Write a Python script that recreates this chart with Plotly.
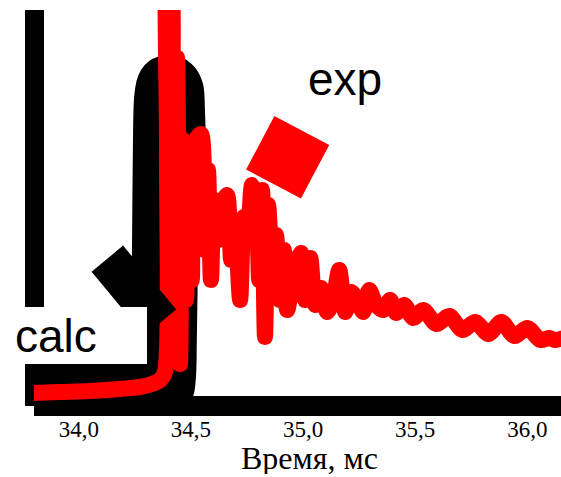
import plotly.graph_objects as go

# --- data (time in ms, intensity in arbitrary units) ---
calc_t = [33.799, 34.094, 34.317, 34.353, 34.371, 34.379, 34.384, 34.388, 34.393,
          34.402, 34.411, 34.415, 34.420, 34.429, 34.446, 34.473, 34.495, 34.518]
calc_v = [11, 11, 12, 14, 21, 66, 156, 256, 306,
          318, 314, 296, 266, 241, 221, 201, 181, 156]

exp_t = [33.795, 33.915, 34.049, 34.183, 34.272, 34.326, 34.362, 34.384, 34.393, 34.397,
         34.406, 34.415, 34.424, 34.438, 34.451, 34.464, 34.478, 34.491, 34.504, 34.522,
         34.545, 34.562, 34.576, 34.589, 34.603, 34.621, 34.638, 34.661, 34.679, 34.696,
         34.719, 34.737, 34.754, 34.772, 34.790, 34.804, 34.817, 34.830, 34.844, 34.862,
         34.879, 34.897, 34.915, 34.929, 34.955, 34.991, 35.009, 35.032, 35.054, 35.081,
         35.107, 35.134, 35.161, 35.188, 35.214, 35.241, 35.268, 35.295, 35.326, 35.357,
         35.388, 35.415, 35.451, 35.491, 35.536, 35.594, 35.652, 35.710, 35.768, 35.826,
         35.884, 35.942, 36.000, 36.058, 36.098, 36.121, 36.161]
exp_v = [13, 14, 15, 17, 19, 22, 26, 34, 256, 446,
         446, 206, 76, 348, 42, 266, 106, 254, 126, 266,
         272, 156, 236, 126, 206, 166, 201, 211, 146, 186,
         106, 189, 176, 221, 206, 126, 216, 69, 201, 146,
         171, 106, 156, 96, 126, 153, 106, 148, 101, 118,
         94, 106, 136, 94, 114, 106, 94, 116, 101, 96,
         106, 93, 101, 88, 96, 82, 90, 76, 84, 72,
         84, 70, 78, 66, 68, 66, 68]

tick_vals = [34.0, 34.5, 35.0, 35.5, 36.0]
tick_text = ["34,0", "34,5", "35,0", "35,5", "36,0"]
x_title = "Время, мс"

fig = go.Figure()
fig.add_trace(go.Scatter(x=calc_t, y=calc_v, mode="lines", name="calc",
                         line=dict(color="black", width=66, shape="spline", smoothing=0.8)))
fig.add_trace(go.Scatter(x=exp_t, y=exp_v, mode="lines", name="exp",
                         line=dict(color="red", width=16, shape="spline", smoothing=0.8)))

# arrows (drawn first so the label boxes sit on top)
fig.add_annotation(x=34.3156, y=128.5, ax=-33, ay=27.5, text="", showarrow=True,
                   arrowhead=0, arrowwidth=83, arrowcolor="black")
fig.add_annotation(x=34.8683, y=222, ax=29, ay=-55, text="", showarrow=True,
                   arrowhead=0, arrowwidth=62, arrowcolor="red")
# labels
fig.add_annotation(x=34.009, y=71, text="calc", showarrow=False,
                   font=dict(family="Liberation Sans", size=46, color="black"),
                   bgcolor="white", width=132, height=57, align="left",
                   borderpad=0, borderwidth=0)
fig.add_annotation(x=35.185, y=327, text="exp", showarrow=False,
                   font=dict(family="Liberation Sans", size=46, color="black"))
# x-axis title
fig.add_annotation(xref="paper", yref="paper", x=0.5237, y=0, yshift=-52,
                   xanchor="center", yanchor="middle", text=x_title, showarrow=False,
                   height=32, borderpad=0, valign="middle",
                   font=dict(family="Liberation Serif", size=32, color="black"))

fig.update_xaxes(range=[33.8, 36.15], tickvals=tick_vals, ticktext=tick_text,
                 anchor="free", position=0, automargin=False, ticklabelstandoff=-7,
                 showline=True, linewidth=20, linecolor="black", ticks="",
                 showgrid=False, zeroline=False, layer="below traces",
                 tickfont=dict(family="Liberation Serif", size=23, color="black"))
fig.update_yaxes(range=[0, 396], anchor="free", position=0, automargin=False,
                 showline=True, linewidth=19, linecolor="black",
                 showticklabels=False, ticks="", showgrid=False, zeroline=False,
                 layer="below traces")
fig.update_layout(width=561, height=477, margin=dict(l=34, r=0, t=10, b=71),
                  plot_bgcolor="white", paper_bgcolor="white", showlegend=False)

fig.write_html("out.html")
